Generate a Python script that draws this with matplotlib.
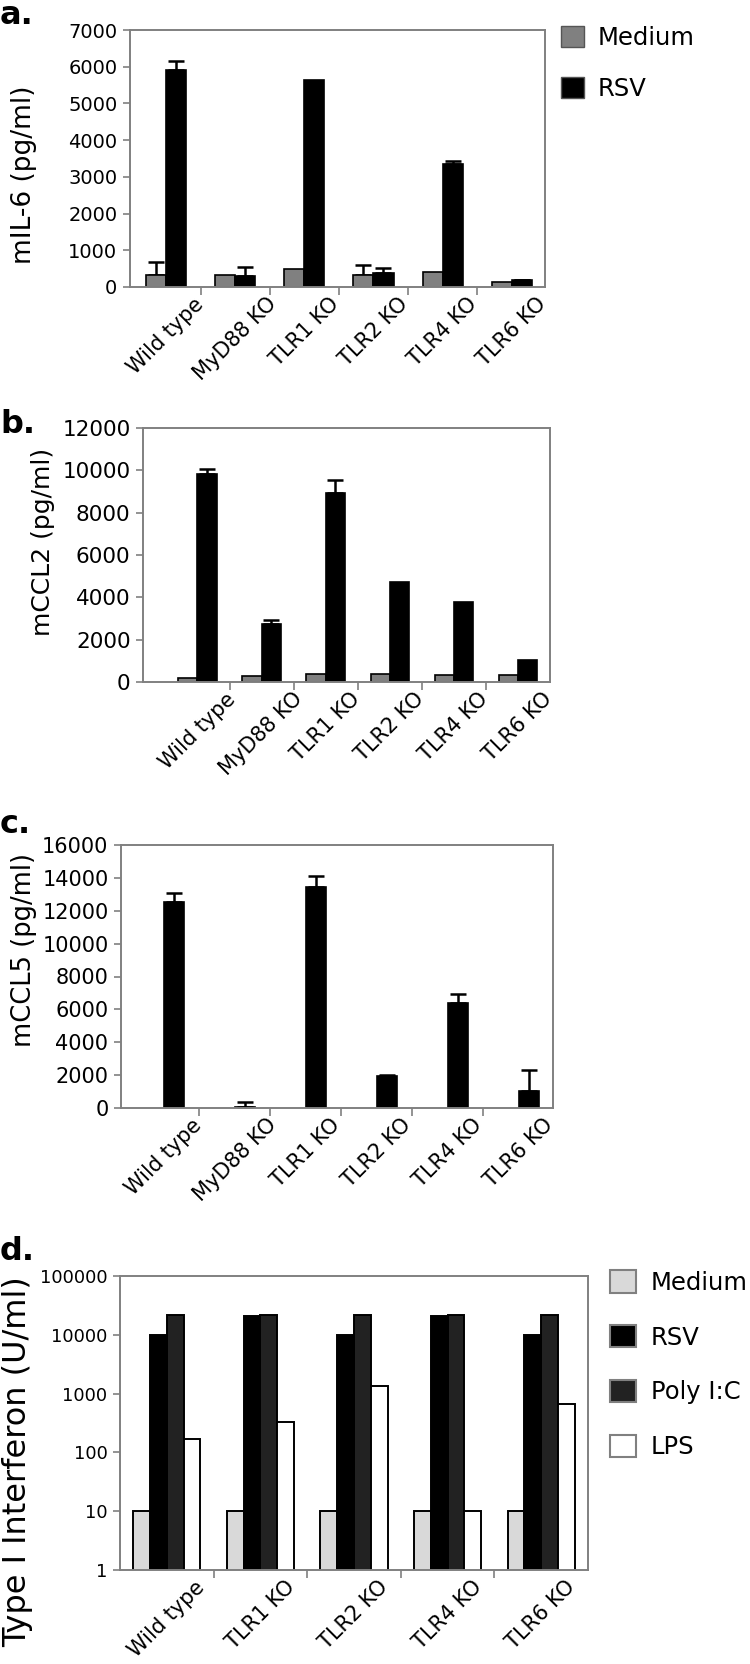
import numpy as np
import matplotlib.pyplot as plt
from matplotlib.patches import Patch

# data
strains = ['Wild type', 'MyD88 KO', 'TLR1 KO', 'TLR2 KO', 'TLR4 KO', 'TLR6 KO']
strains_d = ['Wild type', 'TLR1 KO', 'TLR2 KO', 'TLR4 KO', 'TLR6 KO']

il6_medium = [330, 340, 490, 330, 420, 130]
il6_medium_err = [350, 0, 0, 270, 0, 0]
il6_rsv = [5910, 290, 5650, 390, 3350, 180]
il6_rsv_err = [250, 260, 0, 130, 80, 20]

ccl2_medium = [170, 280, 360, 360, 340, 330]
ccl2_rsv = [9830, 2740, 8930, 4720, 3780, 1050]
ccl2_rsv_err = [230, 190, 610, 0, 0, 0]

ccl5_rsv = [12530, 50, 13440, 1950, 6390, 1050]
ccl5_rsv_err = [550, 310, 660, 50, 540, 1260]

ifn_medium = [10, 10, 10, 10, 10]
ifn_rsv = [10000, 20500, 10000, 20500, 10000]
ifn_polyic = [21500, 21500, 21500, 21500, 21500]
ifn_lps = [168, 331, 1350, 10, 655]

W, H = 750, 1664
fig = plt.figure(figsize=(W / 100, H / 100), dpi=100)
GREY = '#808080'


def make_ax(left, right, top, bottom):
    return fig.add_axes([left / W, 1 - bottom / H, (right - left) / W, (bottom - top) / H])


def style(ax, n, labels, tick_fs, xlab_fs):
    for s in ax.spines.values():
        s.set_color(GREY)
        s.set_linewidth(1.4)
    ax.set_xticks(np.arange(n - 1) + 0.5)
    ax.set_xticklabels([])
    ax.set_xticks(np.arange(n), minor=True)
    ax.set_xticklabels(labels, minor=True, rotation=45, ha='center', va='top',
                       fontsize=xlab_fs)
    ax.tick_params(axis='x', which='major', direction='out', length=6, color=GREY, width=1.2)
    ax.tick_params(axis='x', which='minor', length=0, pad=5)
    ax.tick_params(axis='y', which='major', direction='out', length=5, color=GREY, width=1.2,
                   labelsize=tick_fs, pad=4)
    ax.tick_params(axis='y', which='minor', length=0)


def upper_err(ax, x, y, err):
    x = np.asarray(x, float)
    y = np.asarray(y, float)
    e = np.asarray(err, float)
    m = e > 0
    ax.errorbar(x[m], y[m], yerr=[np.zeros(m.sum()), e[m]], fmt='none',
                ecolor='black', elinewidth=1.8, capsize=5.5, capthick=1.8, zorder=1)


x6 = np.arange(len(strains))
x5 = np.arange(len(strains_d))

# ---- a. mIL-6
ax = make_ax(130, 545, 30, 287)
w = 0.29
ax.bar(x6 - w / 2, il6_medium, w, color=GREY, edgecolor='black', linewidth=1.2, zorder=2)
ax.bar(x6 + w / 2, il6_rsv, w, color='black', edgecolor='black', linewidth=1.2, zorder=2)
upper_err(ax, x6 - w / 2, il6_medium, il6_medium_err)
upper_err(ax, x6 + w / 2, il6_rsv, il6_rsv_err)
ax.set_ylim(0, 7000)
ax.set_yticks(range(0, 7001, 1000))
ax.set_xlim(-0.52, 5.48)
style(ax, 6, strains, 14, 15)
ax.set_ylabel('mIL-6 (pg/ml)', fontsize=19)
ax.yaxis.set_label_coords(-0.225, 0.436)
ax.legend(handles=[Patch(facecolor=GREY, edgecolor='#555555', label='Medium'),
                   Patch(facecolor='black', edgecolor='#555555', label='RSV')],
          loc='upper left', bbox_to_anchor=(561 / W, 1 - 26 / H),
          bbox_transform=fig.transFigure, frameon=False, fontsize=17.5,
          borderpad=0, borderaxespad=0, handlelength=0.95, handleheight=0.95,
          handletextpad=0.55, labelspacing=1.1)

# ---- b. mCCL2
ax = make_ax(143, 550, 428, 682)
w = 0.3
ax.bar(x6 - w / 2, ccl2_medium, w, color=GREY, edgecolor='black', linewidth=1.2, zorder=2)
ax.bar(x6 + w / 2, ccl2_rsv, w, color='black', edgecolor='black', linewidth=1.2, zorder=2)
upper_err(ax, x6 + w / 2, ccl2_rsv, ccl2_rsv_err)
ax.set_ylim(0, 12000)
ax.set_yticks(range(0, 12001, 2000))
ax.set_xlim(-0.85, 5.5)
style(ax, 6, strains, 15.5, 15)
ax.set_ylabel('mCCL2 (pg/ml)', fontsize=18)
ax.yaxis.set_label_coords(-0.215, 0.551)

# ---- c. mCCL5
ax = make_ax(121, 553, 845, 1108)
w = 0.28
ax.bar(x6 + w / 2, ccl5_rsv, w, color='black', edgecolor='black', linewidth=1.2, zorder=2)
upper_err(ax, x6 + w / 2, ccl5_rsv, ccl5_rsv_err)
ax.set_ylim(0, 16000)
ax.set_yticks(range(0, 16001, 2000))
ax.set_xlim(-0.6, 5.48)
style(ax, 6, strains, 15, 15)
ax.set_ylabel('mCCL5 (pg/ml)', fontsize=18.5)
ax.yaxis.set_label_coords(-0.195, 0.60)

# ---- d. Type I interferon
ax = make_ax(120, 588, 1276, 1570)
w = 0.18
kw = dict(edgecolor='black', linewidth=1.4, zorder=2)
ax.bar(x5 - 1.5 * w, ifn_medium, w, color='#d9d9d9', **kw)
ax.bar(x5 - 0.5 * w, ifn_rsv, w, color='black', **kw)
ax.bar(x5 + 0.5 * w, ifn_polyic, w, color='#222222', **kw)
ax.bar(x5 + 1.5 * w, ifn_lps, w, color='white', **kw)
ax.set_yscale('log')
ax.set_ylim(1, 100000)
ax.set_yticks([1, 10, 100, 1000, 10000, 100000])
ax.set_yticklabels(['1', '10', '100', '1000', '10000', '100000'])
ax.set_xlim(-0.5, 4.5)
style(ax, 5, strains_d, 12.8, 15)
ax.set_ylabel('Type I Interferon (U/ml)', fontsize=23)
ax.yaxis.set_label_coords(-0.186, 0.37)
ax.legend(handles=[Patch(facecolor='#d9d9d9', edgecolor=GREY, linewidth=1.5, label='Medium'),
                   Patch(facecolor='black', edgecolor=GREY, linewidth=1.5, label='RSV'),
                   Patch(facecolor='#222222', edgecolor=GREY, linewidth=1.5, label='Poly I:C'),
                   Patch(facecolor='white', edgecolor=GREY, linewidth=1.5, label='LPS')],
          loc='upper left', bbox_to_anchor=(610 / W, 1 - 1270 / H),
          bbox_transform=fig.transFigure, frameon=False, fontsize=17.5,
          borderpad=0, borderaxespad=0, handlelength=1.07, handleheight=1.05,
          handletextpad=0.6, labelspacing=1.25)

# panel letters
for letter, base in [('a.', 24), ('b.', 433), ('c.', 833), ('d.', 1260)]:
    fig.text(0.0, 1 - base / H, letter, fontsize=23, fontweight='bold', va='baseline', ha='left')

fig.savefig('out.png', dpi=100)
